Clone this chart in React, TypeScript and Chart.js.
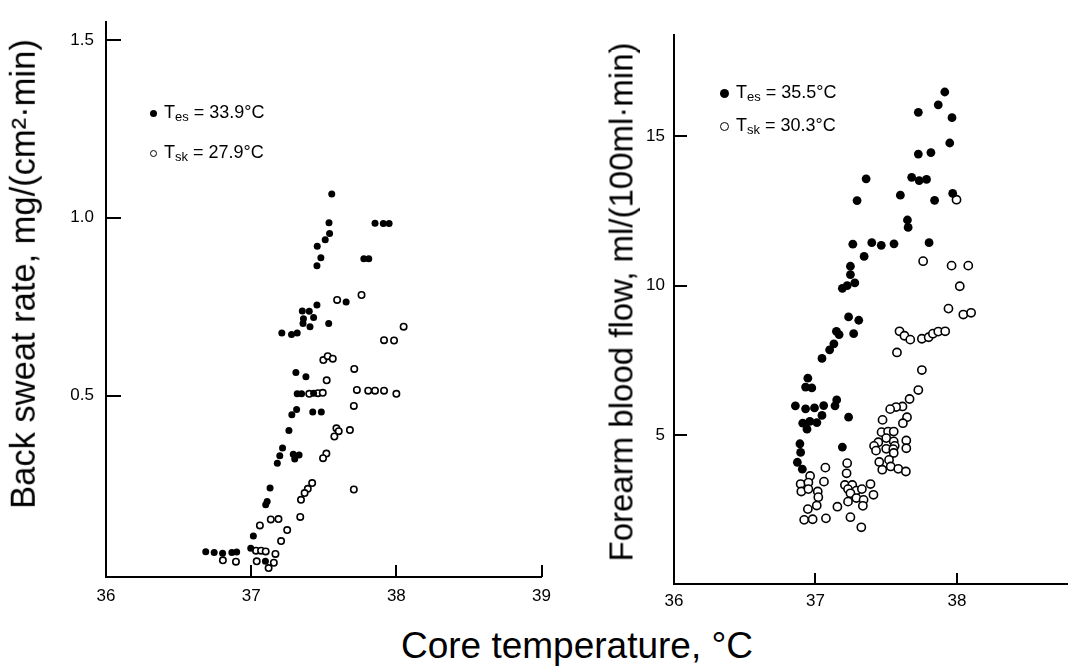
import React, { useEffect, useRef } from "react";
import { Chart, registerables } from "chart.js";

Chart.register(...registerables);

const FONT = '"Liberation Sans", Arial, Helvetica, sans-serif';

// ---- Left panel: back sweat rate ----
const sweatTicksX = [36, 37, 38, 39];
const sweatTicksY = [0.5, 1.0, 1.5];

const sweatEsT = [37.555, 37.536, 37.54, 37.51, 37.455, 37.48, 37.453, 37.853, 37.91, 37.95, 37.776, 37.81,
  37.453, 37.654, 37.352, 37.4, 37.43, 37.36, 37.357, 37.405, 37.534, 37.211, 37.278, 37.317,
  37.308, 37.377, 37.317, 37.347, 37.43, 37.313, 37.28, 37.424, 37.483, 37.26, 37.216, 37.197,
  37.18, 37.29, 37.33, 37.3, 37.13, 37.11, 37.1, 37.015, 36.997, 36.687, 36.745, 36.803, 36.867,
  36.9, 37.098];
const sweatEsV = [1.067, 0.986, 0.956, 0.938, 0.92, 0.888, 0.865, 0.985, 0.984, 0.984, 0.885, 0.885,
  0.755, 0.763, 0.738, 0.737, 0.72, 0.716, 0.703, 0.694, 0.703, 0.676, 0.672, 0.676,
  0.565, 0.553, 0.505, 0.505, 0.507, 0.461, 0.446, 0.454, 0.454, 0.402, 0.353, 0.331,
  0.31, 0.335, 0.333, 0.322, 0.24, 0.202, 0.193, 0.105, 0.071, 0.061, 0.059, 0.057, 0.059,
  0.06, 0.034];

const sweatSkT = [37.592, 37.76, 38.05, 37.915, 37.984, 37.497, 37.527, 37.562, 37.71, 37.52, 37.4, 37.46,
  37.493, 37.728, 37.806, 37.853, 37.915, 38.0, 37.707, 37.587, 37.603, 37.573, 37.68, 37.518,
  37.495, 37.42, 37.39, 37.368, 37.343, 37.707, 37.338, 37.135, 37.188, 37.06, 37.248, 37.206,
  37.033, 37.068, 37.1, 37.167, 36.805, 36.895, 37.038, 37.156, 37.12];
const sweatSkV = [0.769, 0.783, 0.694, 0.656, 0.655, 0.6, 0.611, 0.604, 0.575, 0.543, 0.505, 0.507,
  0.508, 0.516, 0.514, 0.514, 0.514, 0.505, 0.471, 0.408, 0.4, 0.385, 0.403, 0.337,
  0.324, 0.254, 0.238, 0.226, 0.207, 0.236, 0.159, 0.152, 0.153, 0.135, 0.122, 0.091,
  0.064, 0.064, 0.062, 0.055, 0.037, 0.033, 0.034, 0.03, 0.015];

// ---- Right panel: forearm blood flow ----
const flowTicksX = [36, 37, 38];
const flowTicksY = [5, 10, 15];

const flowEsT = [37.914, 37.868, 37.965, 37.727, 37.949, 37.727, 37.816, 37.358, 37.68, 37.733, 37.785,
  37.294, 37.6, 37.842, 37.97, 37.65, 37.655, 37.264, 37.398, 37.465, 37.555, 37.803, 37.344,
  37.247, 37.247, 37.278, 37.224, 37.19, 37.234, 37.306, 37.27, 37.148, 37.167, 37.13, 37.1,
  37.046, 36.946, 36.93, 36.974, 36.858, 36.93, 36.993, 37.058, 37.15, 37.138, 37.234, 36.91,
  36.96, 37.01, 37.046, 36.94, 36.89, 36.895, 36.872, 36.907, 37.19];
const flowEsV = [16.49, 16.06, 15.63, 15.81, 14.78, 14.41, 14.46, 13.58, 13.63, 13.52, 13.56,
  12.85, 13.03, 12.86, 13.09, 12.2, 11.95, 11.39, 11.44, 11.35, 11.4, 11.44, 10.98,
  10.65, 10.37, 10.09, 10.0, 9.91, 8.95, 8.84, 8.39, 8.47, 8.36, 8.05, 7.85,
  7.56, 6.9, 6.6, 6.57, 5.97, 5.87, 5.9, 5.98, 6.17, 5.97, 5.59, 5.39,
  5.45, 5.41, 5.65, 5.19, 4.7, 4.41, 4.08, 3.85, 4.59];

const flowSkT = [37.997, 37.761, 37.962, 38.08, 38.02, 37.94, 38.045, 38.1, 37.594, 37.629, 37.67,
  37.752, 37.8, 37.83, 37.868, 37.917, 37.576, 37.752, 37.727, 37.665, 37.615, 37.57, 37.528,
  37.647, 37.618, 37.474, 37.467, 37.513, 37.553, 37.5, 37.444, 37.414, 37.428, 37.553, 37.56,
  37.5, 37.55, 37.553, 37.642, 37.642, 37.451, 37.52, 37.472, 37.532, 37.585, 37.639, 37.224,
  37.22, 37.07, 36.962, 36.895, 36.95, 36.9, 36.95, 37.06, 37.016, 37.02, 37.009, 36.946,
  36.92, 36.98, 37.074, 37.155, 37.208, 37.26, 37.23, 37.289, 37.328, 37.247, 37.289, 37.23,
  37.389, 37.41, 37.34, 37.335, 37.247, 37.324];
const flowSkV = [12.88, 10.82, 10.67, 10.67, 9.98, 9.23, 9.03, 9.09, 8.47, 8.32, 8.19,
  8.22, 8.27, 8.39, 8.46, 8.47, 7.76, 7.17, 6.5, 6.2, 5.95, 5.93, 5.86,
  5.59, 5.39, 5.5, 5.09, 5.11, 5.11, 4.89, 4.75, 4.63, 4.47, 4.78, 4.63,
  4.53, 4.52, 4.39, 4.81, 4.55, 4.09, 4.16, 3.83, 3.94, 3.86, 3.77, 4.05,
  3.71, 3.9, 3.62, 3.35, 3.4, 3.1, 3.18, 3.43, 3.1, 2.91, 2.63, 2.51,
  2.15, 2.17, 2.2, 2.59, 3.32, 3.32, 3.18, 3.13, 3.18, 3.04, 2.88, 2.76,
  3.35, 2.99, 2.82, 2.62, 2.24, 1.9];

const pts = (xs: number[], ys: number[]) => xs.map((x, i) => ({ x, y: ys[i] }));

// Inward-pointing tick marks, placed through the chart's own scales
const makeInwardTicks = (xLen: number, yLen: number) => ({
  id: "inwardTicks",
  afterDraw(chart: any) {
    const { ctx, chartArea, scales } = chart;
    const xs = scales.x;
    const ys = scales.y;
    ctx.save();
    ctx.strokeStyle = "#000";
    ctx.lineWidth = 2;
    xs.ticks.forEach((t: any) => {
      if (t.value === xs.min) return;
      const px = Math.round(xs.getPixelForValue(t.value));
      ctx.beginPath();
      ctx.moveTo(px, chartArea.bottom);
      ctx.lineTo(px, chartArea.bottom - xLen);
      ctx.stroke();
    });
    ys.ticks.forEach((t: any) => {
      const py = Math.round(ys.getPixelForValue(t.value));
      ctx.beginPath();
      ctx.moveTo(chartArea.left, py);
      ctx.lineTo(chartArea.left + yLen, py);
      ctx.stroke();
    });
    ctx.restore();
  },
});

type PanelProps = {
  width: number;
  height: number;
  filled: { x: number; y: number }[];
  open: { x: number; y: number }[];
  xMin: number;
  xMax: number;
  yMin: number;
  yMax: number;
  xTicks: number[];
  yTicks: number[];
  yDecimals: number;
  yAxisWidth: number;
  xAxisHeight: number;
  padTop: number;
  padRight: number;
  radius: number;
  xLabelPad: number;
  yLabelPad: number;
  xTickLen: number;
  yTickLen: number;
};

function Panel(p: PanelProps) {
  const ref = useRef<HTMLCanvasElement | null>(null);
  useEffect(() => {
    if (!ref.current) return;
    const chart = new Chart(ref.current, {
      type: "scatter",
      data: {
        datasets: [
          {
            label: "Tes",
            data: p.filled,
            backgroundColor: "#000",
            borderColor: "#000",
            borderWidth: 0,
            pointRadius: p.radius,
          },
          {
            label: "Tsk",
            data: p.open,
            backgroundColor: "#fff",
            borderColor: "#000",
            borderWidth: 1.6,
            pointRadius: p.radius - 0.3,
          },
        ],
      },
      plugins: [makeInwardTicks(p.xTickLen, p.yTickLen)],
      options: {
        animation: false,
        responsive: false,
        devicePixelRatio: 1,
        layout: { padding: { top: p.padTop, right: p.padRight, left: 0, bottom: 0 } },
        plugins: {
          legend: { display: false },
          tooltip: { enabled: false },
        },
        scales: {
          x: {
            type: "linear",
            min: p.xMin,
            max: p.xMax,
            afterFit: (s: any) => {
              s.height = p.xAxisHeight;
            },
            afterBuildTicks: (s: any) => {
              s.ticks = p.xTicks.map((v) => ({ value: v }));
            },
            grid: { display: true, drawOnChartArea: false, drawTicks: false, color: "rgba(0,0,0,0)" },
            border: { display: true, color: "#000", width: 2 },
            ticks: {
              color: "#000",
              font: { family: FONT, size: 17 },
              padding: p.xLabelPad,
              maxRotation: 0,
              callback: (v: any) => String(v),
            },
          },
          y: {
            type: "linear",
            min: p.yMin,
            max: p.yMax,
            afterFit: (s: any) => {
              s.width = p.yAxisWidth;
            },
            afterBuildTicks: (s: any) => {
              s.ticks = p.yTicks.map((v) => ({ value: v }));
            },
            grid: { display: true, drawOnChartArea: false, drawTicks: false, color: "rgba(0,0,0,0)" },
            border: { display: true, color: "#000", width: 2 },
            ticks: {
              color: "#000",
              font: { family: FONT, size: 17 },
              padding: p.yLabelPad,
              callback: (v: any) => Number(v).toFixed(p.yDecimals),
            },
          },
        },
      },
    });
    return () => chart.destroy();
  }, []);
  return (
    <canvas
      ref={ref}
      width={p.width}
      height={p.height}
      style={{ width: p.width, height: p.height, display: "block" }}
    />
  );
}

function LegendRow({ x, y, filled, sub, value, size }: { x: number; y: number; filled: boolean; sub: string; value: string; size: number }) {
  const d = size;
  return (
    <div style={{ position: "absolute", left: x, top: y - 12, height: 24, display: "flex", alignItems: "center", fontFamily: FONT, fontSize: 18, color: "#000", whiteSpace: "nowrap" }}>
      <span
        style={{
          display: "inline-block",
          width: d,
          height: d,
          boxSizing: "border-box",
          borderRadius: "50%",
          background: filled ? "#000" : "#fff",
          border: filled ? "none" : "1.4px solid #000",
          marginRight: 7,
        }}
      />
      <span>
        T<sub style={{ fontSize: 13, verticalAlign: "-3px" }}>{sub}</sub> = {value}
      </span>
    </div>
  );
}

function YTitle({ cx, cy, size, text }: { cx: number; cy: number; size: number; text: string }) {
  return (
    <div
      style={{
        position: "absolute",
        left: cx,
        top: cy,
        transform: "translate(-50%, -50%) rotate(-90deg)",
        fontFamily: FONT,
        fontSize: size,
        lineHeight: 1,
        color: "#000",
        whiteSpace: "nowrap",
      }}
    >
      {text}
    </div>
  );
}

export default function App() {
  return (
    <div style={{ position: "absolute", left: 0, top: 0, width: 1073, height: 666, background: "#fff", overflow: "hidden" }}>
      <div style={{ position: "absolute", left: 0, top: 0 }}>
        <Panel
          width={560}
          height={620}
          filled={pts(sweatEsT, sweatEsV)}
          open={pts(sweatSkT, sweatSkV)}
          xMin={36}
          xMax={39}
          yMin={-0.01}
          yMax={1.55}
          xTicks={sweatTicksX}
          yTicks={sweatTicksY}
          yDecimals={1}
          yAxisWidth={106}
          xAxisHeight={43}
          padTop={13}
          padRight={18}
          radius={3.5}
          xLabelPad={9}
          yLabelPad={12}
          xTickLen={12}
          yTickLen={15}
        />
      </div>
      <div style={{ position: "absolute", left: 560, top: 0 }}>
        <Panel
          width={513}
          height={620}
          filled={pts(flowEsT, flowEsV)}
          open={pts(flowSkT, flowSkV)}
          xMin={36}
          xMax={38.78}
          yMin={0}
          yMax={18.4}
          xTicks={flowTicksX}
          yTicks={flowTicksY}
          yDecimals={0}
          yAxisWidth={114}
          xAxisHeight={36}
          padTop={35}
          padRight={0}
          radius={4.4}
          xLabelPad={7}
          yLabelPad={9}
          xTickLen={11}
          yTickLen={13}
        />
      </div>
      <YTitle cx={23} cy={274} size={34.5} text="Back sweat rate, mg/(cm²·min)" />
      <YTitle cx={621} cy={302} size={33} text="Forearm blood flow, ml/(100ml·min)" />
      <LegendRow x={150} y={113} filled={true} sub="es" value="33.9°C" size={7} />
      <LegendRow x={150} y={153} filled={false} sub="sk" value="27.9°C" size={7} />
      <LegendRow x={720} y={93} filled={true} sub="es" value="35.5°C" size={9} />
      <LegendRow x={720} y={126} filled={false} sub="sk" value="30.3°C" size={9} />
      <div style={{ position: "absolute", left: 327, width: 500, top: 627, textAlign: "center", fontFamily: FONT, fontSize: 37, lineHeight: "37px", color: "#000", whiteSpace: "nowrap" }}>
        Core temperature, °C
      </div>
    </div>
  );
}
